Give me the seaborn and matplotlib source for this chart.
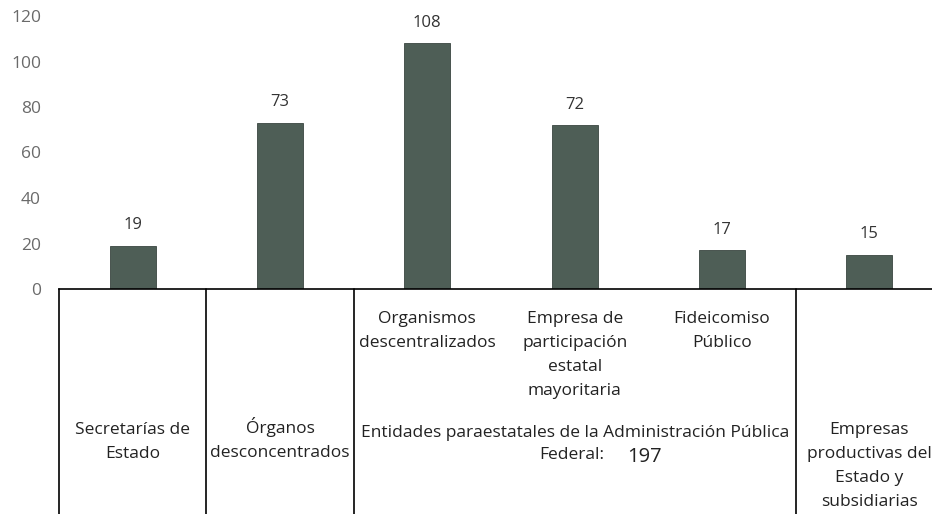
import numpy as np
import pandas as pd
import matplotlib
matplotlib.use("Agg")
import matplotlib.pyplot as plt
import matplotlib.transforms as mtransforms
import seaborn as sns

# data
categories = ["Secretarías de Estado", "Órganos desconcentrados",
              "Organismos descentralizados",
              "Empresa de participación estatal mayoritaria",
              "Fideicomiso Público",
              "Empresas productivas del Estado y subsidiarias"]
values = [19, 73, 108, 72, 17, 15]

# labels written in the table under the bars
sub_labels = {2: "Organismos\ndescentralizados",
              3: "Empresa de\nparticipación\nestatal\nmayoritaria",
              4: "Fideicomiso\nPúblico"}
group_labels = ["Secretarías de\nEstado", "Órganos\ndesconcentrados",
                "Entidades paraestatales de la Administración Pública",
                "Empresas\nproductivas del\nEstado y\nsubsidiarias"]
group_sizes = [1, 1, 3, 1]

df = pd.DataFrame({"categoria": categories, "valor": values})

sns.set_style("white")
plt.rcParams["font.family"] = ["Open Sans", "DejaVu Sans"]

fig = plt.figure(figsize=(9.32, 5.14), dpi=100)
ax = fig.add_axes([59 / 932, 225 / 514, 884 / 932, 273 / 514])

sns.barplot(data=df, x="categoria", y="valor", color="#4e5e56",
            width=0.31, ax=ax, edgecolor="#3a4540", linewidth=0.6, saturation=1)
ax.bar_label(ax.containers[0], padding=9, fontsize=12, color="#333333")

ax.set_xlim(-0.5, 5.5)
ax.set_ylim(0, 120)
ax.set_yticks(range(0, 121, 20))
ax.tick_params(axis="y", length=0, pad=13, labelsize=12.5, labelcolor="#6a6a6a")
ax.set_xticks([])
ax.set_xlabel("")
ax.set_ylabel("")
for s in ["top", "right", "left"]:
    ax.spines[s].set_visible(False)
ax.spines["bottom"].set_color("black")
ax.spines["bottom"].set_linewidth(1.2)

# table under the axis: x in data, y in axes fraction
trans = mtransforms.blended_transform_factory(ax.transData, ax.transAxes)
px = 1 / 273.0  # one pixel in axes-fraction units

edges = np.concatenate([[-0.5], np.cumsum(group_sizes) - 0.5])
for e in edges:
    ax.plot([e, e], [0, -1.0], transform=trans, color="black",
            lw=1.2, clip_on=False)

txt = dict(transform=trans, va="top", fontsize=12.5, color="#222222",
           linespacing=1.68)
for i, lab in sub_labels.items():
    ax.text(i, -22 * px, lab, ha="center", **txt)

for k, lab in enumerate(group_labels):
    center = (edges[k] + edges[k + 1]) / 2
    # accented capitals push a top-aligned text down, compensate
    top = -133 * px + (5 * px if lab[0] in "ÁÉÍÓÚ" else 0)
    if k == 2:
        top -= 3 * px
    ax.text(center, top, lab, ha="center", **txt)

total_paraestatal = sum(values[2:5])
ax.text(3.204, -166 * px, "Federal:", ha="right", va="center",
        transform=trans, fontsize=12.5, color="#222222")
ax.text(3.355, -168 * px, str(total_paraestatal), transform=trans,
        ha="left", va="center", fontsize=14.5, color="#222222")

fig.savefig("out.png", dpi=100)
